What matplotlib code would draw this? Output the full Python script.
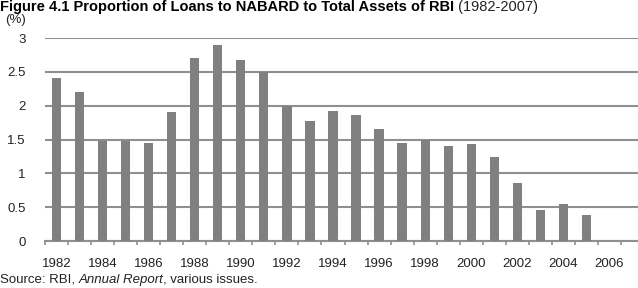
import numpy as np
import matplotlib
matplotlib.use('Agg')
import matplotlib.pyplot as plt

years = list(range(1982, 2008))
share = [2.41, 2.20, 1.475, 1.475, 1.455, 1.90, 2.70, 2.90, 2.67, 2.50,
         1.99, 1.78, 1.92, 1.86, 1.65, 1.45, 1.50, 1.41, 1.43, 1.245,
         0.86, 0.455, 0.54, 0.38, np.nan, np.nan]
yticks = [0, 0.5, 1, 1.5, 2, 2.5, 3]
ytick_labels = ['0', '0.5', '1', '1.5', '2', '2.5', '3']

title_bold = 'Figure 4.1 Proportion of Loans to NABARD to Total Assets of RBI'
title_rest = ' (1982-2007)'

plt.rcParams['font.family'] = ['Liberation Sans', 'DejaVu Sans']

fig = plt.figure(figsize=(6.38, 2.88), dpi=100)
W, H = 638, 288
ax = fig.add_axes([45 / W, (H - 241) / H, (644 - 45) / W, (241 - 38) / H])

grid_c = '#8f8f8f'
x = np.arange(len(years))
ax.bar(x, share, width=0.4, color='#808080', zorder=3)

ax.set_xlim(-0.5, len(years) - 0.5)
ax.set_ylim(0, 3)
ax.set_yticks(yticks)
ax.set_yticklabels(ytick_labels)
ax.yaxis.grid(True, color=grid_c, linewidth=1.5, zorder=0)
ax.tick_params(axis='y', length=0, pad=14, labelsize=9.5, labelcolor='#222222')

# labels every other year at centres, tick marks at category boundaries
ax.set_xticks(x[::2])
ax.set_xticklabels([str(y) for y in years[::2]])
ax.set_xticks(np.arange(len(years) + 1) - 0.5, minor=True)
ax.tick_params(axis='x', which='major', length=0, pad=12, labelsize=9.5, labelcolor='#222222')
ax.tick_params(axis='x', which='minor', length=3, width=1.2, color=grid_c)

for s in ['top', 'right', 'left']:
    ax.spines[s].set_visible(False)
ax.spines['bottom'].set_color(grid_c)
ax.spines['bottom'].set_linewidth(1.5)

fig.text(5 / W, 1 - 23 / H, '(%)', fontsize=9.5, va='baseline', color='#222222')

fig.canvas.draw()
r = fig.canvas.get_renderer()
t1 = fig.text(0, 1 - 11 / H, title_bold, fontsize=10.5, fontweight='bold', va='baseline')
bb = t1.get_window_extent(r)
fig.text(bb.x1 / W, 1 - 11 / H, title_rest, fontsize=10.5, va='baseline', color='#222222')

s1 = fig.text(0, 5 / H, 'Source: RBI, ', fontsize=9.5, va='baseline', color='#222222')
bb = s1.get_window_extent(r)
s2 = fig.text(bb.x1 / W, 5 / H, 'Annual Report', fontsize=9.5, style='italic',
              va='baseline', color='#222222')
bb = s2.get_window_extent(r)
fig.text(bb.x1 / W, 5 / H, ', various issues.', fontsize=9.5, va='baseline', color='#222222')

fig.savefig('out.png', dpi=100)
